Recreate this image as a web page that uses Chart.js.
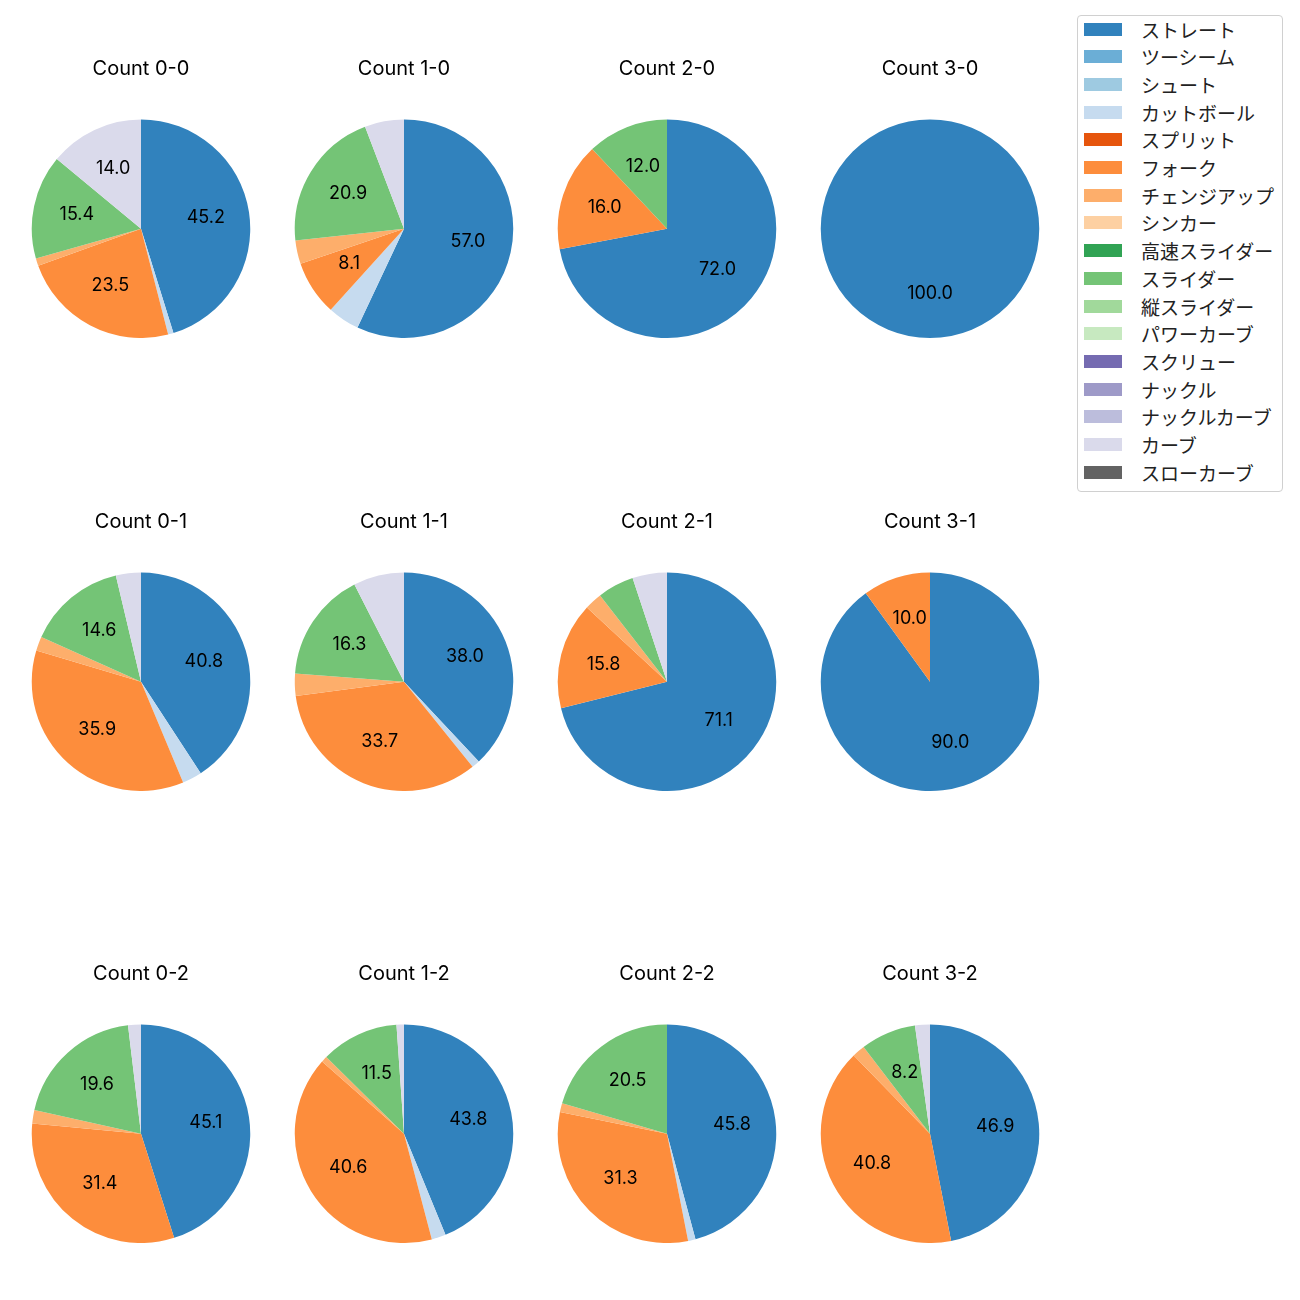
<!DOCTYPE html>
<html>
<head>
<meta charset="utf-8">
<script src="https://cdn.jsdelivr.net/npm/chart.js@4"></script>
<style>
	body { margin: 0; background: #fff; }
	#wrap { position: relative; width: 1300px; height: 1300px; font-family: Inter, "Noto Sans CJK JP", sans-serif; }
	#wrap canvas { position: absolute; }
	#legend { position: absolute; left: 1077px; top: 15px; width: 206px; height: 477px; border: 1px solid #d0d0d0; border-radius: 4px; box-sizing: border-box; }
	.lg-row { position: absolute; left: 6px; height: 22px; display: flex; align-items: center; font-size: 19px; color: #222; white-space: nowrap; font-family: "Noto Sans CJK JP", sans-serif; }
	.lg-box { width: 38px; height: 13px; margin-right: 19px; }
</style>
</head>
<body>
<div id="wrap">
	<div id="legend"></div>
</div>
<script>
(function () {
	'use strict';

	const pitchTypes = ['ストレート', 'ツーシーム', 'シュート', 'カットボール', 'スプリット', 'フォーク', 'チェンジアップ', 'シンカー', '高速スライダー', 'スライダー', '縦スライダー', 'パワーカーブ', 'スクリュー', 'ナックル', 'ナックルカーブ', 'カーブ', 'スローカーブ'];
	const pitchColors = ['#3182bd', '#6baed6', '#9ecae1', '#c6dbef', '#e6550d', '#fd8d3c', '#fdae6b', '#fdd0a2', '#31a354', '#74c476', '#a1d99b', '#c7e9c0', '#756bb1', '#9e9ac8', '#bcbddc', '#dadaeb', '#636363'];

	// share per pitch type, same order as pitchTypes
	const count00 = [45.2, 0, 0, 0.8, 0, 23.5, 1.1, 0, 0, 15.4, 0, 0, 0, 0, 0, 14.0, 0];
	const count10 = [57.0, 0, 0, 4.7, 0, 8.1, 3.5, 0, 0, 20.9, 0, 0, 0, 0, 0, 5.8, 0];
	const count20 = [72.0, 0, 0, 0, 0, 16.0, 0, 0, 0, 12.0, 0, 0, 0, 0, 0, 0, 0];
	const count30 = [100.0, 0, 0, 0, 0, 0, 0, 0, 0, 0, 0, 0, 0, 0, 0, 0, 0];
	const count01 = [40.8, 0, 0, 2.9, 0, 35.9, 2.1, 0, 0, 14.6, 0, 0, 0, 0, 0, 3.7, 0];
	const count11 = [38.0, 0, 0, 1.2, 0, 33.7, 3.3, 0, 0, 16.3, 0, 0, 0, 0, 0, 7.5, 0];
	const count21 = [71.1, 0, 0, 0, 0, 15.8, 2.6, 0, 0, 5.4, 0, 0, 0, 0, 0, 5.1, 0];
	const count31 = [90.0, 0, 0, 0, 0, 10.0, 0, 0, 0, 0, 0, 0, 0, 0, 0, 0, 0];
	const count02 = [45.1, 0, 0, 0, 0, 31.4, 2.0, 0, 0, 19.6, 0, 0, 0, 0, 0, 1.9, 0];
	const count12 = [43.8, 0, 0, 2.1, 0, 40.6, 0.9, 0, 0, 11.5, 0, 0, 0, 0, 0, 1.1, 0];
	const count22 = [45.8, 0, 0, 1.1, 0, 31.3, 1.3, 0, 0, 20.5, 0, 0, 0, 0, 0, 0, 0];
	const count32 = [46.9, 0, 0, 0, 0, 40.8, 1.9, 0, 0, 8.2, 0, 0, 0, 0, 0, 2.2, 0];

	const panels = [
		['Count 0-0', count00], ['Count 1-0', count10], ['Count 2-0', count20], ['Count 3-0', count30],
		['Count 0-1', count01], ['Count 1-1', count11], ['Count 2-1', count21], ['Count 3-1', count31],
		['Count 0-2', count02], ['Count 1-2', count12], ['Count 2-2', count22], ['Count 3-2', count32]
	];

	const fontFamily = 'Inter, "Noto Sans CJK JP", sans-serif';
	const labelMin = 8; // smaller wedges get no percent label

	// percent text at 0.6 of the radius, like autopct
	const pctLabels = {
		id: 'pctLabels',
		afterDatasetsDraw(chart) {
			const ctx = chart.ctx;
			const values = chart.data.datasets[0].data;
			ctx.save();
			ctx.font = '18px ' + fontFamily;
			ctx.fillStyle = '#000';
			ctx.textAlign = 'center';
			ctx.textBaseline = 'middle';
			chart.getDatasetMeta(0).data.forEach(function(arc, i) {
				if (values[i] < labelMin) {
					return;
				}
				const p = arc.getProps(['x', 'y', 'startAngle', 'endAngle', 'outerRadius'], true);
				const mid = (p.startAngle + p.endAngle) / 2;
				const r = p.outerRadius * 0.6;
				ctx.fillText(values[i].toFixed(1), p.x + Math.cos(mid) * r, p.y + Math.sin(mid) * r - 1);
			});
			ctx.restore();
		}
	};

	const wrap = document.getElementById('wrap');
	const colCenters = [141, 404, 667, 930];
	const rowTops = [57, 510, 962];

	panels.forEach(function(panel, n) {
		const canvas = document.createElement('canvas');
		canvas.width = 220;
		canvas.height = 281;
		canvas.style.left = (colCenters[n % 4] - 110) + 'px';
		canvas.style.top = rowTops[Math.floor(n / 4)] + 'px';
		wrap.appendChild(canvas);

		new Chart(canvas, {
			type: 'pie',
			data: {
				labels: pitchTypes,
				datasets: [{
					data: panel[1],
					backgroundColor: pitchColors,
					borderWidth: 0
				}]
			},
			options: {
				responsive: false,
				animation: false,
				layout: { padding: 0 },
				plugins: {
					legend: { display: false },
					tooltip: { enabled: false },
					title: {
						display: true,
						text: panel[0],
						color: '#000',
						font: { family: fontFamily, size: 20, weight: 'normal', lineHeight: 1.2 },
						padding: { top: 0, bottom: 38.5 }
					}
				}
			},
			plugins: [pctLabels]
		});
	});

	const legend = document.getElementById('legend');
	pitchTypes.forEach(function(name, i) {
		const row = document.createElement('div');
		row.className = 'lg-row';
		row.style.top = (2 + i * 27.7) + 'px';
		const box = document.createElement('div');
		box.className = 'lg-box';
		box.style.background = pitchColors[i];
		row.appendChild(box);
		row.appendChild(document.createTextNode(name));
		legend.appendChild(row);
	});
})();
</script>
</body>
</html>
